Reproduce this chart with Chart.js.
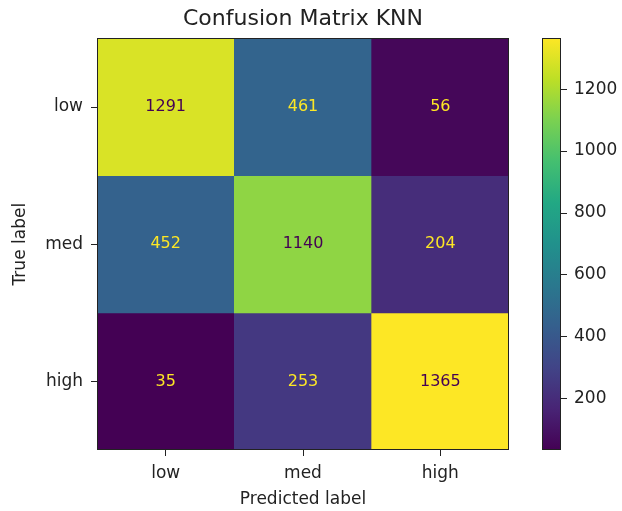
<!DOCTYPE html>
<html>
<head>
<meta charset="utf-8">
<title>Confusion Matrix KNN</title>
<script src="https://cdn.jsdelivr.net/npm/chart.js@4"></script>
<style>
  html, body { margin: 0; padding: 0; background: #fff; }
  #wrap { position: relative; width: 622px; height: 511px; }
  #matrixBox { position: absolute; left: 0; top: 0; width: 530px; height: 511px; }
  #cbarBox { position: absolute; left: 530px; top: 0; width: 92px; height: 511px; }
</style>
</head>
<body>
<div id="wrap">
  <div id="matrixBox"><canvas id="matrixChart"></canvas></div>
  <div id="cbarBox"><canvas id="cbarChart"></canvas></div>
</div>
<script>
// rows = true label, columns = predicted label
const trueLabels = ['low', 'med', 'high'];
const predLabels = ['low', 'med', 'high'];
const rowLow = [1291, 461, 56];
const rowMed = [452, 1140, 204];
const rowHigh = [35, 253, 1365];
const cbarTicks = [200, 400, 600, 800, 1000, 1200];

const rows = [rowLow, rowMed, rowHigh];
const allValues = rows.flat();
const vmin = Math.min(...allValues);
const vmax = Math.max(...allValues);

// viridis sampled at 0, 0.1, ... 1.0
const VIRIDIS = [
  [68, 1, 84], [72, 36, 117], [65, 68, 135], [53, 95, 141], [42, 120, 142],
  [33, 145, 140], [34, 168, 132], [68, 191, 112], [122, 209, 81], [189, 223, 38],
  [253, 231, 37]
];

function viridis(t) {
  t = Math.max(0, Math.min(1, t));
  const pos = t * (VIRIDIS.length - 1);
  const i = Math.min(Math.floor(pos), VIRIDIS.length - 2);
  const f = pos - i;
  const a = VIRIDIS[i], b = VIRIDIS[i + 1];
  const c = a.map((v, k) => Math.round(v + (b[k] - v) * f));
  return `rgb(${c[0]},${c[1]},${c[2]})`;
}

const norm = (v) => (v - vmin) / (vmax - vmin);

Chart.defaults.font.family = "'DejaVu Sans', sans-serif";
Chart.defaults.font.size = 17;
Chart.defaults.color = '#222';

const TEXT = '#222';

// thin black outline around the plot area
const framePlugin = {
  id: 'frame',
  afterDatasetsDraw(chart) {
    const { ctx, chartArea: a } = chart;
    ctx.save();
    ctx.strokeStyle = TEXT;
    ctx.lineWidth = 1;
    ctx.strokeRect(Math.round(a.left) + 0.5, Math.round(a.top) + 0.5,
      Math.round(a.right - a.left) - 1, Math.round(a.bottom - a.top) - 1);
    ctx.restore();
  }
};

// count written in the middle of each cell
const cellTextPlugin = {
  id: 'cellText',
  afterDatasetsDraw(chart) {
    const { ctx, scales: { x, y } } = chart;
    const thresh = (vmin + vmax) / 2;
    ctx.save();
    ctx.font = "16px 'DejaVu Sans', sans-serif";
    ctx.textAlign = 'center';
    ctx.textBaseline = 'middle';
    rows.forEach((row, r) => {
      row.forEach((v, c) => {
        ctx.fillStyle = v > thresh ? viridis(0) : viridis(1);
        ctx.fillText(String(v), x.getPixelForValue(c), y.getPixelForValue(r));
      });
    });
    ctx.restore();
  }
};

function initMatrix() {
  const ctx = document.getElementById('matrixChart').getContext('2d');

  // one floating-bar dataset per true-label row
  const datasets = rows.map((row, r) => ({
    label: trueLabels[r],
    data: row.map(() => [r - 0.5, r + 0.5]),
    backgroundColor: row.map((v) => viridis(norm(v))),
    borderWidth: 0,
    barPercentage: 1,
    categoryPercentage: 1
  }));

  new Chart(ctx, {
    type: 'bar',
    data: { labels: predLabels, datasets },
    options: {
      responsive: true,
      maintainAspectRatio: false,
      animation: false,
      layout: { padding: { left: 0, right: 21, top: 0, bottom: 0 } },
      plugins: {
        legend: { display: false },
        tooltip: { enabled: false },
        title: {
          display: true,
          text: 'Confusion Matrix KNN',
          fullSize: false,
          color: TEXT,
          font: { size: 22, weight: 'normal' },
          padding: { top: 6, bottom: 6 }
        }
      },
      scales: {
        x: {
          type: 'category',
          stacked: true,
          offset: true,
          border: { display: false },
          grid: { offset: false, drawOnChartArea: false, tickLength: 6, color: TEXT },
          ticks: { padding: 7, color: TEXT },
          title: { display: true, text: 'Predicted label', color: TEXT, padding: { top: 0, bottom: 1 } },
          afterFit: (s) => { s.height = 61; }
        },
        y: {
          type: 'linear',
          stacked: false,
          reverse: true,
          min: -0.5,
          max: 2.5,
          border: { display: false },
          grid: { drawOnChartArea: false, tickLength: 6, color: TEXT },
          afterBuildTicks: (s) => { s.ticks = trueLabels.map((_, i) => ({ value: i })); },
          ticks: { padding: 8, color: TEXT, callback: (v) => trueLabels[v] },
          title: { display: true, text: 'True label', color: TEXT, padding: { top: 10, bottom: 0 } },
          afterFit: (s) => { s.width = 97; }
        }
      }
    },
    plugins: [framePlugin, cellTextPlugin]
  });
}

function initColorbar() {
  const ctx = document.getElementById('cbarChart').getContext('2d');

  const fill = (context) => {
    const area = context.chart.chartArea;
    if (!area) return null;
    const g = context.chart.ctx.createLinearGradient(0, area.bottom, 0, area.top);
    VIRIDIS.forEach((_, i) => {
      const t = i / (VIRIDIS.length - 1);
      g.addColorStop(t, viridis(t));
    });
    return g;
  };

  new Chart(ctx, {
    type: 'bar',
    data: {
      labels: [''],
      datasets: [{
        data: [[vmin, vmax]],
        backgroundColor: fill,
        borderWidth: 0,
        barPercentage: 1,
        categoryPercentage: 1
      }]
    },
    options: {
      responsive: true,
      maintainAspectRatio: false,
      animation: false,
      layout: { padding: { left: 12, right: 0, top: 38, bottom: 61 } },
      plugins: { legend: { display: false }, tooltip: { enabled: false } },
      scales: {
        x: { display: false },
        y: {
          position: 'right',
          min: vmin,
          max: vmax,
          border: { display: false },
          grid: { drawOnChartArea: false, tickLength: 6, color: TEXT },
          afterBuildTicks: (s) => { s.ticks = cbarTicks.map((v) => ({ value: v })); },
          ticks: { padding: 7, color: TEXT, callback: (v) => String(v) },
          afterFit: (s) => { s.width = 61; }
        }
      }
    },
    plugins: [framePlugin]
  });
}

document.addEventListener('DOMContentLoaded', () => {
  initMatrix();
  initColorbar();
});
</script>
</body>
</html>
